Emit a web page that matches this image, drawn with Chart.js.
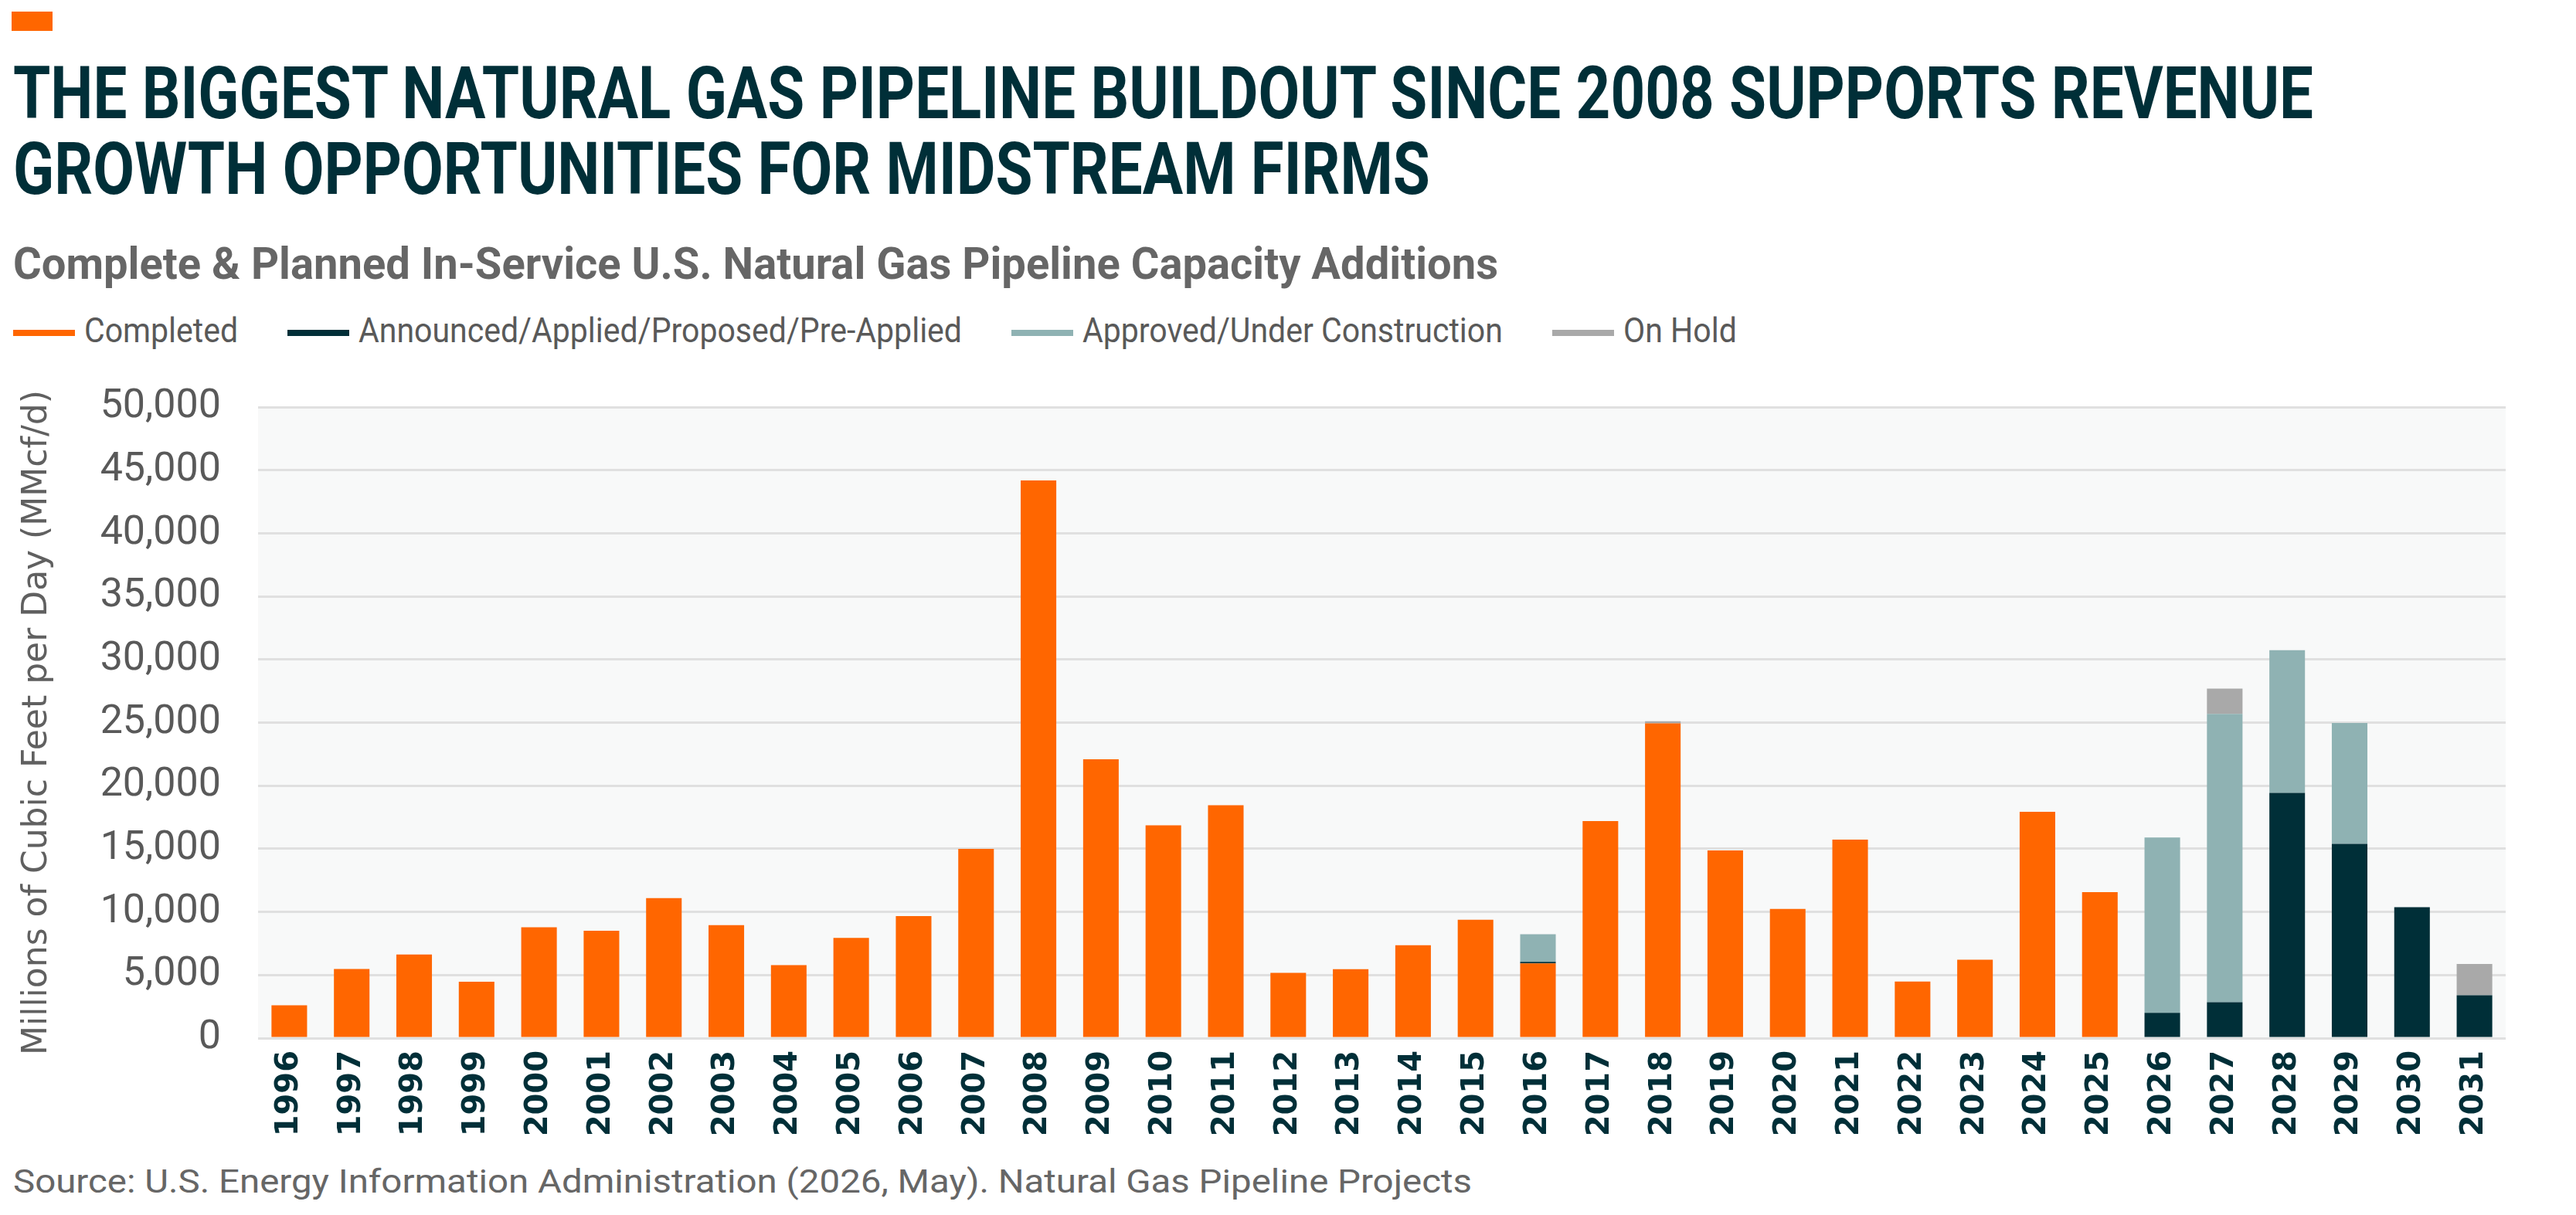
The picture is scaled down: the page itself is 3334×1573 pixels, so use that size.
<!DOCTYPE html>
<html>
<head>
<meta charset="utf-8">
<title>Natural Gas Pipeline Capacity Additions</title>
<script src="https://cdn.jsdelivr.net/npm/chart.js@4.4.1/dist/chart.umd.min.js"></script>
<style>
  html, body { margin: 0; padding: 0; background: #fff; }
  body { width: 3334px; height: 1573px; position: relative; overflow: hidden; }
  .txt { position: absolute; white-space: nowrap; line-height: 1; transform-origin: 0 0; }
  #flag { position: absolute; left: 15px; top: 15px; width: 53px; height: 25px; background: #ff6600; }
  .title { left: 17px; font-family: "Liberation Sans Narrow", "Roboto", sans-serif; font-weight: bold; font-size: 95px; color: #002f38; }
  #t1 { top: 73px; }
  #t2 { top: 171px; }
  #sub { left: 17px; top: 312px; font-family: "Liberation Sans Narrow", "Roboto", sans-serif; font-weight: bold; font-size: 58px; color: #666; }
  #source { left: 17px; top: 1509px; font-family: "Liberation Sans Narrow", "Roboto", sans-serif; font-size: 42px; color: #666; }
  #legend { position: absolute; left: 17px; top: 406px; height: 44px; display: flex; align-items: center; }
  .item { display: flex; align-items: center; margin-right: 64px; }
  .mark { display: inline-block; width: 80px; height: 8px; margin-right: 12px; margin-top: 6px; }
  .lbox { display: inline-block; position: relative; height: 44px; }
  .ltxt { position: absolute; left: 0; top: 0; white-space: nowrap; line-height: 1; transform-origin: 0 0;
          font-family: "Liberation Sans Narrow", "Roboto", sans-serif; font-size: 44px; color: #595959; }
  /* chart layout pushes the plot 79px down from the canvas top */
  #wrap { position: absolute; left: 0; top: 448px; width: 3334px; height: 1052px; }
</style>
</head>
<body>
<div id="flag"></div>
<div id="t1" class="txt title">THE BIGGEST NATURAL GAS PIPELINE BUILDOUT SINCE 2008 SUPPORTS REVENUE</div>
<div id="t2" class="txt title">GROWTH OPPORTUNITIES FOR MIDSTREAM FIRMS</div>
<div id="sub" class="txt">Complete &amp; Planned In-Service U.S. Natural Gas Pipeline Capacity Additions</div>
<div id="legend"></div>
<div id="wrap"><canvas id="myChart"></canvas></div>
<div id="source" class="txt">Source: U.S. Energy Information Administration (2026, May). Natural Gas Pipeline Projects</div>

<script>
// pipeline capacity chart

const years = ["1996", "1997", "1998", "1999", "2000", "2001", "2002", "2003", "2004", "2005",
  "2006", "2007", "2008", "2009", "2010", "2011", "2012", "2013", "2014", "2015",
  "2016", "2017", "2018", "2019", "2020", "2021", "2022", "2023", "2024", "2025",
  "2026", "2027", "2028", "2029", "2030", "2031"];

// MMcf/d per year
const completed = [2600, 5480, 6620, 4470, 8790, 8510, 11100, 8950, 5780, 7950,
  9670, 15000, 44200, 22100, 16870, 18450, 5180, 5470, 7360, 9380,
  5930, 17200, 24950, 14880, 10240, 15730, 4490, 6220, 17930, 11570,
  null, null, null, null, null, null];
const announced = [null, null, null, null, null, null, null, null, null, null,
  null, null, null, null, null, null, null, null, null, null,
  120, null, null, null, null, null, null, null, null, null,
  2000, 2850, 19440, 15400, 10380, 3400];
const approved = [null, null, null, null, null, null, null, null, null, null,
  null, null, null, null, null, null, null, null, null, null,
  2180, null, null, null, null, null, null, null, null, null,
  13900, 22850, 11300, 9570, null, null];
const onHold = [null, null, null, null, null, null, null, null, null, null,
  null, null, null, null, null, null, null, null, null, null,
  null, null, 170, null, null, null, null, null, null, null,
  null, 2000, null, null, null, 2480];

const seriesNames = ["Completed", "Announced/Applied/Proposed/Pre-Applied", "Approved/Under Construction", "On Hold"];
const seriesColors = ["#ff6600", "#002f38", "#8fb2b3", "#a9a9a9"];
const yMax = 50000;
const yStep = 5000;
const yTitle = "Millions of Cubic Feet per Day (MMcf/d)";

// squeeze a line of text to a width
function stretch(el, width) {
  const w = el.getBoundingClientRect().width;
  const k = width / w;
  el.style.transform = "scaleX(" + k + ")";
  return k;
}

const kTitle = stretch(document.getElementById("t1"), 2977);
document.getElementById("t2").style.transform = "scaleX(" + kTitle + ")";
stretch(document.getElementById("sub"), 1922);
stretch(document.getElementById("source"), 1888);

// legend
const legend = document.getElementById("legend");
seriesNames.forEach((name, i) => {
  const item = document.createElement("div");
  item.className = "item";
  const mark = document.createElement("span");
  mark.className = "mark";
  mark.style.background = seriesColors[i];
  const box = document.createElement("span");
  box.className = "lbox";
  const label = document.createElement("span");
  label.className = "ltxt";
  label.textContent = name;
  box.appendChild(label);
  item.appendChild(mark);
  item.appendChild(box);
  legend.appendChild(item);
});
const labels = Array.from(document.querySelectorAll(".ltxt"));
const kLegend = 781 / labels[1].getBoundingClientRect().width;
labels.forEach((s) => {
  const w = s.getBoundingClientRect().width;
  s.style.transform = "scaleX(" + kLegend + ")";
  s.parentNode.style.width = w * kLegend + "px";
});

// light panel behind the bars
const plotBg = {
  id: "plotBg",
  beforeDraw(chart) {
    const { ctx, chartArea: a } = chart;
    ctx.save();
    ctx.fillStyle = "#f8f9f9";
    ctx.fillRect(a.left, a.top, a.right - a.left, a.bottom - a.top);
    ctx.restore();
  },
};

const values = [completed, announced, approved, onHold];

var ctx = document.getElementById("myChart").getContext("2d");
var myChart = new Chart(ctx, {
  type: "bar",
  data: {
    labels: years,
    datasets: seriesNames.map((name, i) => ({
      label: name,
      data: values[i],
      backgroundColor: seriesColors[i],
      borderWidth: 0,
      barPercentage: 0.57,
      categoryPercentage: 1,
    })),
  },
  options: {
    responsive: true,
    maintainAspectRatio: false,
    animation: false,
    devicePixelRatio: 1,
    layout: { padding: { left: 0, right: 91, top: 35, bottom: 0 } },
    plugins: {
      legend: { display: false },
      tooltip: { enabled: false },
    },
    scales: {
      x: {
        stacked: true,
        grid: { display: false, drawTicks: false },
        border: { display: false },
        ticks: {
          color: "#002f38",
          font: { family: "DejaVu Sans", size: 40, weight: "bold" },
          minRotation: 90,
          maxRotation: 90,
          padding: 16,
          autoSkip: false,
        },
        afterFit: (s) => { s.height = 156; },
      },
      y: {
        stacked: true,
        min: 0,
        max: yMax,
        grid: { color: "#e0e0e0", lineWidth: 3, drawTicks: false },
        border: { display: false },
        ticks: {
          stepSize: yStep,
          color: "#595959",
          font: { family: "Roboto", size: 52 },
          padding: 48,
          callback: (v) => v.toLocaleString("en-US"),
        },
        title: {
          display: true,
          text: yTitle,
          color: "#606060",
          font: { family: "DejaVu Sans", size: 44 },
          padding: { top: 22, bottom: 0 },
        },
        afterFit: (s) => { s.width = 334; },
      },
    },
  },
  plugins: [plotBg],
});
</script>
</body>
</html>
